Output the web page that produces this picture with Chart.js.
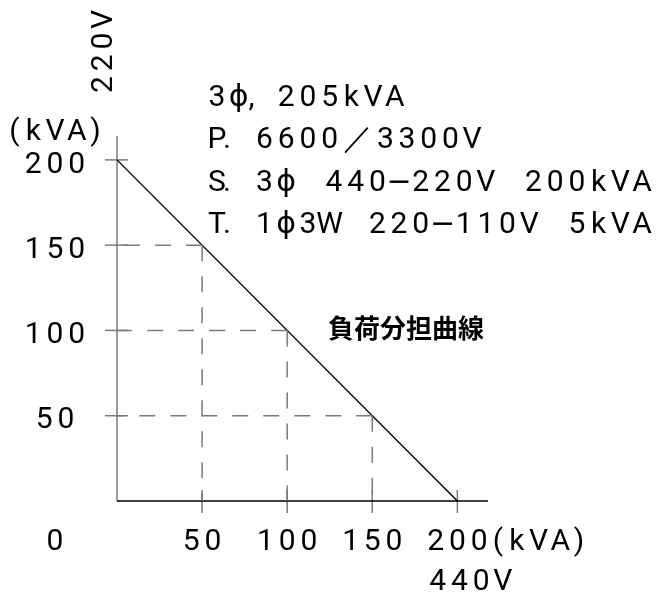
<!DOCTYPE html>
<html><head><meta charset="utf-8">
<script src="https://cdn.jsdelivr.net/npm/chart.js@4"></script>
<style>html,body{margin:0;padding:0;background:#fff}#wrap{width:664px;height:594px}</style>
</head><body><div id="wrap"><canvas id="c" width="664" height="594"></canvas></div>
<script>
// ---- data ----
const curveX = [0, 200];
const curveY = [200, 0];
const guideX = [50, 100, 150];
const guideY = [150, 100, 50];
const xTicks = [50, 100, 150, 200];
const yTicks = [50, 100, 150, 200];
const xTickLabels = ['50', '100', '150', '200'];
const yTickLabels = ['50', '100', '150', '200'];
const originLabel = '0';
const unitLabel = '(kVA)';
const yVoltLabel = '220V';
const xVoltLabel = '440V';
const specLines = ['3ϕ, 205kVA', 'P. 6600／3300V', 'S. 3ϕ 440−220V 200kVA', 'T. 1ϕ3W 220−110V 5kVA'];
const curveLabel = '負荷分担曲線';

// ---- styles ----
const GREY = '#7a7a7a';
const FONT = '30px Roboto, "DejaVu Sans", sans-serif';
const MINUS_FONT = '30px "DejaVu Sans", sans-serif';
const PITCH = 21.7;
const SPECIAL = {' ': 26, '／': 34, '(': 16, ')': 16};
const PUNCT_OFFSET = {'.': 10, ',': 13};

function spacedWidth(text) {
  let w = 0;
  for (const ch of text) {
    if (PUNCT_OFFSET[ch] !== undefined) continue;
    w += (SPECIAL[ch] !== undefined ? SPECIAL[ch] : PITCH);
  }
  return w;
}
function drawSpaced(ctx, text, x, y) {
  ctx.textAlign = 'center';
  let cx = x, prev = x;
  for (const ch of text) {
    if (PUNCT_OFFSET[ch] !== undefined) { ctx.fillText(ch, prev + PUNCT_OFFSET[ch], y); continue; }
    const w = (SPECIAL[ch] !== undefined ? SPECIAL[ch] : PITCH);
    if (ch === '−') {
      const f = ctx.font; ctx.font = MINUS_FONT; ctx.fillText(ch, cx + w / 2, y); ctx.font = f;
    } else if (ch !== ' ') ctx.fillText(ch, cx + w / 2, y);
    prev = cx + w / 2;
    cx += w;
  }
}
const CAP = 10.7; // half cap height offset for baseline

const datasets = [];
guideX.forEach((gx, i) => {
  const gy = guideY[i];
  datasets.push({data: [{x: gx, y: gy}, {x: 0, y: gy}], borderColor: GREY, borderWidth: 1.5, borderDash: [16, 15]});
  datasets.push({data: [{x: gx, y: gy}, {x: gx, y: 0}], borderColor: GREY, borderWidth: 1.5, borderDash: [16, 15]});
});
datasets.push({data: curveX.map((x, i) => ({x, y: curveY[i]})), borderColor: '#000', borderWidth: 1.4});

const axesPlugin = {
  id: 'axesPlugin',
  beforeDatasetsDraw(chart) {
    const ctx = chart.ctx, xs = chart.scales.x, ys = chart.scales.y, a = chart.chartArea;
    const x0 = xs.getPixelForValue(0), y0 = ys.getPixelForValue(0);
    ctx.save();
    ctx.lineWidth = 1.5;
    ctx.strokeStyle = GREY;
    ctx.beginPath(); ctx.moveTo(x0, a.top); ctx.lineTo(x0, y0); ctx.stroke();
    yTicks.forEach(v => { const y = ys.getPixelForValue(v); ctx.beginPath(); ctx.moveTo(x0 - 12, y); ctx.lineTo(x0 + 11, y); ctx.stroke(); });
    xTicks.forEach(v => { const x = xs.getPixelForValue(v); ctx.beginPath(); ctx.moveTo(x, y0 - 11); ctx.lineTo(x, y0 + 12); ctx.stroke(); });
    ctx.strokeStyle = '#000';
    ctx.beginPath(); ctx.moveTo(x0, y0); ctx.lineTo(a.right, y0); ctx.stroke();
    ctx.restore();
  },
  afterDraw(chart) {
    const ctx = chart.ctx, xs = chart.scales.x, ys = chart.scales.y;
    ctx.save();
    ctx.fillStyle = '#000';
    ctx.font = FONT;
    ctx.textBaseline = 'alphabetic';
    const labelCX = 55;
    // y tick labels
    yTicks.forEach((v, i) => {
      const t = yTickLabels[i];
      drawSpaced(ctx, t, labelCX - spacedWidth(t) / 2, ys.getPixelForValue(v) + 2 + CAP);
    });
    // y unit
    drawSpaced(ctx, unitLabel, labelCX - spacedWidth(unitLabel) / 2, 129 + CAP);
    // y voltage (rotated)
    ctx.save();
    ctx.translate(101.5 + CAP, 52);
    ctx.rotate(-Math.PI / 2);
    drawSpaced(ctx, yVoltLabel, -spacedWidth(yVoltLabel) / 2, 0);
    ctx.restore();
    // x tick labels
    const xlY = 539 + CAP;
    drawSpaced(ctx, originLabel, labelCX - spacedWidth(originLabel) / 2, xlY);
    let lastRight = 0, lastLeft = 0;
    xTicks.forEach((v, i) => {
      const t = xTickLabels[i], w = spacedWidth(t);
      const left = xs.getPixelForValue(v) - w / 2;
      drawSpaced(ctx, t, left, xlY);
      lastRight = left + w; lastLeft = left;
    });
    drawSpaced(ctx, unitLabel, lastRight, xlY);
    drawSpaced(ctx, xVoltLabel, lastLeft + 2, 579 + CAP);
    // spec lines
    const specY = [95, 137.5, 180, 222];
    specLines.forEach((t, i) => drawSpaced(ctx, t, 206, specY[i] + CAP));
    // curve label
    ctx.font = 'bold 26px "Noto Sans CJK JP", sans-serif';
    ctx.textAlign = 'left';
    ctx.textBaseline = 'middle';
    ctx.fillText(curveLabel, 328, 328);
    ctx.restore();
  }
};

new Chart(document.getElementById('c'), {
  type: 'scatter',
  data: {datasets},
  options: {
    responsive: false,
    animation: false,
    devicePixelRatio: 1,
    layout: {padding: {left: 117, right: 176, top: 136, bottom: 93}},
    elements: {point: {radius: 0}, line: {tension: 0}},
    datasets: {scatter: {showLine: true}},
    plugins: {legend: {display: false}, tooltip: {enabled: false}},
    scales: {
      x: {type: 'linear', min: 0, max: 218, display: false},
      y: {type: 'linear', min: 0, max: 214, display: false}
    }
  },
  plugins: [axesPlugin]
});
</script>
</body></html>
